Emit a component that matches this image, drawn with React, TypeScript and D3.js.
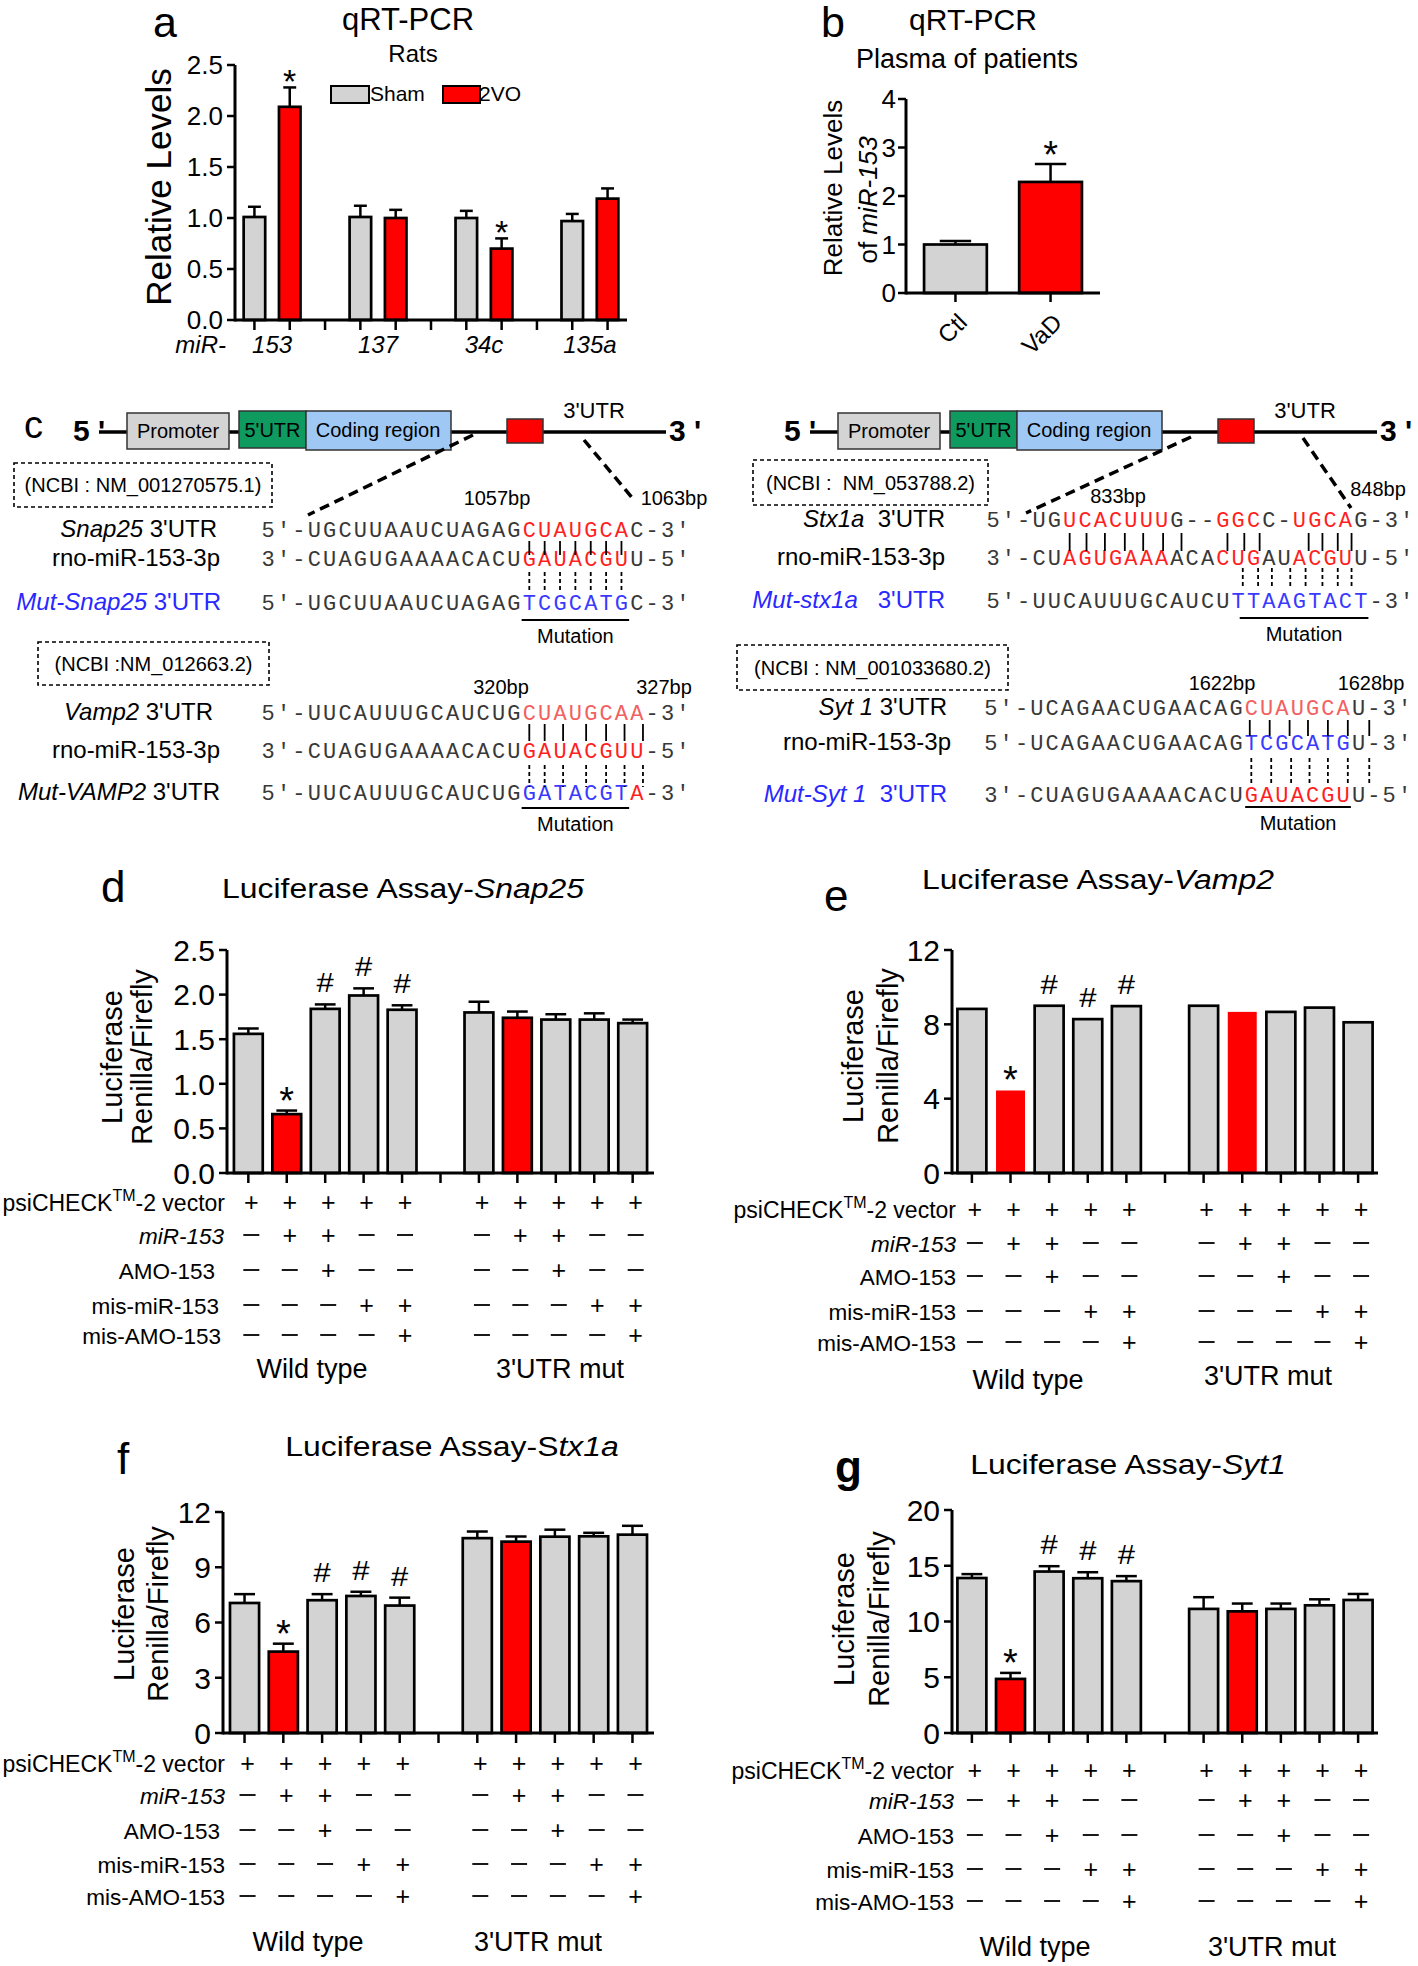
import * as d3 from "d3";

const SANS = "'Liberation Sans', Arial, sans-serif";
const MONO = "'Liberation Mono', 'Courier New', monospace";
const GRAY = "#d3d3d3";
const RED = "#ff0000";
const BLUE = "#2828ff";

// ---- panel a: rats qRT-PCR
const ratMirs = ["153", "137", "34c", "135a"];
const shamLevels = [1.01, 1.01, 1.0, 0.97];
const shamSem = [0.1, 0.11, 0.07, 0.07];
const vo2Levels = [2.09, 1.0, 0.7, 1.19];
const vo2Sem = [0.19, 0.08, 0.1, 0.1];
const vo2Sig = [true, false, true, false];

// ---- panel b: patients plasma
const patientGroups = ["Ctl", "VaD"];
const patientLevels = [1.0, 2.29];
const patientSem = [0.07, 0.37];
const patientSig = [false, true];

// ---- panel c: sequences (k grey, r red, p light red, b blue)
const snap25Rows = ["5'-UGCUUAAUCUAGAGCUAUGCAC-3'", "3'-CUAGUGAAAACACUGAUACGUU-5'", "5'-UGCUUAAUCUAGAGTCGCATGC-3'"];
const snap25Masks = ["kkkkkkkkkkkkkkkkkrrrrrrrkkkk", "kkkkkkkkkkkkkkkkkrrrrrrrkkkk", "kkkkkkkkkkkkkkkkkbbbbbbbkkkk"];
const vamp2Rows = ["5'-UUCAUUUGCAUCUGCUAUGCAA-3'", "3'-CUAGUGAAAACACUGAUACGUU-5'", "5'-UUCAUUUGCAUCUGGATACGTA-3'"];
const vamp2Masks = ["kkkkkkkkkkkkkkkkkppppppppkkk", "kkkkkkkkkkkkkkkkkrrrrrrrrkkk", "kkkkkkkkkkkkkkkkkbbbbbbbrkkk"];
const stx1aRows = ["5'-UGUCACUUUG--GGCC-UGCAG-3'", "3'-CUAGUGAAAACACUGAUACGUU-5'", "5'-UUCAUUUGCAUCUTTAAGTACT-3'"];
const stx1aMasks = ["kkkkkrrrrrrrkkkrrrkkrrrrkkkk", "kkkkkrrrrrrrkkkrrrkkrrrrkkkk", "kkkkkkkkkkkkkkkkbbbbbbbbbkkk"];
const syt1Rows = ["5'-UCAGAACUGAACAGCUAUGCAU-3'", "5'-UCAGAACUGAACAGTCGCATGU-3'", "3'-CUAGUGAAAACACUGAUACGUU-5'"];
const syt1Masks = ["kkkkkkkkkkkkkkkkkpppppppkkkk", "kkkkkkkkkkkkkkkkkbbbbbbbkkkk", "kkkkkkkkkkkkkkkkkrrrrrrrkkkk"];

// ---- panels d-g: luciferase
const lucConditions = ["psiCHECK", "miR-153", "AMO-153", "mis-miR-153", "mis-AMO-153"];
const lucDesign = ["++++++++++", "-++---++--", "--+----+--", "---++---++", "----+----+"];
const lucGroups = ["Wild type", "3'UTR mut"];
const lucMarks = ["", "*", "#", "#", "#", "", "", "", "", ""];
const snap25Luc = [1.56, 0.66, 1.84, 1.99, 1.83, 1.8, 1.74, 1.72, 1.72, 1.68];
const snap25LucSem = [0.06, 0.04, 0.05, 0.08, 0.05, 0.12, 0.07, 0.06, 0.07, 0.04];
const vamp2Luc = [8.83, 4.44, 9.0, 8.28, 8.98, 9.0, 8.67, 8.67, 8.9, 8.11];
const stx1aLuc = [7.06, 4.42, 7.21, 7.44, 6.92, 10.58, 10.39, 10.66, 10.68, 10.77];
const stx1aLucSem = [0.48, 0.43, 0.33, 0.23, 0.43, 0.36, 0.28, 0.38, 0.19, 0.48];
const syt1Luc = [13.9, 4.85, 14.48, 13.88, 13.62, 11.13, 10.91, 11.13, 11.45, 11.93];
const syt1LucSem = [0.35, 0.54, 0.48, 0.54, 0.45, 1.05, 0.7, 0.48, 0.54, 0.54];

type Part = [string, boolean];

// text with an optional horizontal stretch around its anchor
const T = ({ x, y, anchor = "start", size, italic = false, bold = false, sx = 1, fill = "#000", children }: any) => (
  <text transform={`translate(${x},${y}) scale(${sx},1)`} textAnchor={anchor} fontSize={size}
    fontStyle={italic ? "italic" : "normal"} fontWeight={bold ? "bold" : "normal"} fontFamily={SANS} fill={fill}
    style={{ whiteSpace: "pre" }}>
    {children}
  </text>
);

const Parts = ({ parts, x, y, anchor = "start", size, fill = "#000", sx = 1 }: any) => (
  <T x={x} y={y} anchor={anchor} size={size} fill={fill} sx={sx}>
    {parts.map(([t, it]: Part, i: number) => (
      <tspan key={i} fontStyle={it ? "italic" : "normal"}>{t}</tspan>
    ))}
  </T>
);

const VText = ({ x, y, size, children }: any) => (
  <text transform={`translate(${x},${y}) rotate(-90)`} textAnchor="middle" fontSize={size} fontFamily={SANS}>{children}</text>
);

const YAxis = ({ x, y, ticks, fmt, size, gap = 12 }: any) => {
  const [b, t] = y.range();
  return (
    <g>
      <line x1={x} x2={x} y1={b + 1.5} y2={t} stroke="#000" strokeWidth={3} />
      {ticks.map((v: number) => (
        <g key={v}>
          <line x1={x - 8} x2={x} y1={y(v)} y2={y(v)} stroke="#000" strokeWidth={2.5} />
          <text x={x - gap} y={y(v)} dy="0.36em" textAnchor="end" fontSize={size} fontFamily={SANS}>{fmt(v)}</text>
        </g>
      ))}
    </g>
  );
};

const XTicks = ({ x, n, y0 }: any) => (
  <g>
    {d3.range(n).map((s: number) => (
      <line key={s} x1={x(s) + x.bandwidth() / 2} x2={x(s) + x.bandwidth() / 2} y1={y0} y2={y0 + 10} stroke="#000" strokeWidth={2.5} />
    ))}
  </g>
);

const Bar = ({ x, w, y, v, e, fill, stroke = true, cap = 0.3 }: any) => {
  const top = y(v);
  const base = y(0);
  return (
    <g>
      {e != null && e > 0 && (
        <g stroke="#000" strokeWidth={2.5}>
          <line x1={x + w / 2} x2={x + w / 2} y1={top} y2={y(v + e)} />
          <line x1={x + w / 2 - w * cap} x2={x + w / 2 + w * cap} y1={y(v + e)} y2={y(v + e)} />
        </g>
      )}
      <rect x={x} y={top} width={w} height={base - top} fill={fill} stroke={stroke ? "#000" : "none"} strokeWidth={2.7} />
    </g>
  );
};

const Star = ({ x, y, size = 38 }: any) => (
  <text x={x} y={y} textAnchor="middle" fontSize={size} fontFamily={SANS}>*</text>
);

const PanelA = () => {
  const x0 = 235, x1 = 627, yb = 320;
  const y = d3.scaleLinear().domain([0, 2.5]).range([yb, 65]);
  const x = d3.scaleBand<number>().domain(d3.range(11)).range([x0, x1]).paddingInner(0.39).paddingOuter(0.245);
  const bw = x.bandwidth();
  const bars = ratMirs.flatMap((m, i) => [
    { key: m + "s", slot: i * 3, v: shamLevels[i], e: shamSem[i], fill: GRAY, sig: false },
    { key: m + "v", slot: i * 3 + 1, v: vo2Levels[i], e: vo2Sem[i], fill: RED, sig: vo2Sig[i] },
  ]);
  return (
    <g>
      <T x={153} y={37} size={43}>a</T>
      <T x={408} y={30} anchor="middle" size={31}>qRT-PCR</T>
      <T x={413} y={62} anchor="middle" size={24}>Rats</T>
      <VText x={171} y={187} size={35}>Relative Levels</VText>
      {bars.map(b => (
        <Bar key={b.key} x={x(b.slot)} w={bw} y={y} v={b.v} e={b.e} fill={b.fill} />
      ))}
      {bars.filter(b => b.sig).map(b => (
        <Star key={b.key + "*"} x={x(b.slot)! + bw / 2} y={y(b.v + b.e) + 6} size={34} />
      ))}
      <YAxis x={x0} y={y} ticks={d3.range(0, 2.51, 0.5)} fmt={d3.format(".1f")} size={26} />
      <line x1={x0} x2={x1} y1={yb} y2={yb} stroke="#000" strokeWidth={3} />
      <XTicks x={x} n={11} y0={yb} />
      <T x={226} y={353} anchor="end" size={24} italic>miR-</T>
      {ratMirs.map((m, i) => (
        <T key={m} x={(x(i * 3)! + x(i * 3 + 1)! + bw) / 2} y={353} anchor="middle" size={24} italic>{m}</T>
      ))}
      <rect x={331} y={86} width={38} height={17} fill={GRAY} stroke="#000" strokeWidth={2} />
      <T x={370} y={101} size={21}>Sham</T>
      <rect x={443} y={86} width={37} height={17} fill={RED} stroke="#000" strokeWidth={2} />
      <T x={479} y={101} size={21}>2VO</T>
    </g>
  );
};

const PanelB = () => {
  const x0 = 906, x1 = 1100, yb = 293;
  const y = d3.scaleLinear().domain([0, 4]).range([yb, 99]);
  const x = d3.scaleBand<string>().domain(patientGroups).range([x0, x1]).paddingInner(0.34).paddingOuter(0.19);
  const bw = x.bandwidth();
  return (
    <g>
      <T x={821} y={37} size={43}>b</T>
      <T x={973} y={30} anchor="middle" size={30}>qRT-PCR</T>
      <T x={967} y={68} anchor="middle" size={27}>Plasma of patients</T>
      <VText x={842} y={188} size={26}>Relative Levels</VText>
      <VText x={877} y={200} size={26}>of <tspan fontStyle="italic">miR-153</tspan></VText>
      {patientGroups.map((g, i) => (
        <g key={g}>
          <Bar x={x(g)} w={bw} y={y} v={patientLevels[i]} e={patientSem[i]} fill={i === 0 ? GRAY : RED} cap={0.25} />
          {patientSig[i] && <Star x={x(g)! + bw / 2} y={y(patientLevels[i] + patientSem[i]) + 4} />}
          <line x1={x(g)! + bw / 2} x2={x(g)! + bw / 2} y1={yb} y2={yb + 9} stroke="#000" strokeWidth={2.5} />
          <text transform={`translate(${x(g)! + bw / 2 + 13},${yb + 31}) rotate(-45)`} textAnchor="end" fontSize={24} fontFamily={SANS}>{g}</text>
        </g>
      ))}
      <YAxis x={x0} y={y} ticks={[0, 1, 2, 3, 4]} fmt={d3.format("d")} size={26} gap={10} />
      <line x1={x0} x2={x1} y1={yb} y2={yb} stroke="#000" strokeWidth={3} />
    </g>
  );
};

const SEQ_COLORS: Record<string, string> = { k: "#383838", r: "#ff1f1f", p: "#f26060", b: "#3a3aff" };

const Seq = ({ s, mask, x, y, cw }: any) => (
  <g fontFamily={MONO} fontSize={22}>
    {s.split("").map((ch: string, i: number) => (
      <text key={i} x={x + (i + 0.5) * cw} y={y} textAnchor="middle" fill={SEQ_COLORS[mask[i]]}>{ch}</text>
    ))}
  </g>
);

const SeqBlock = ({ labels, labelColors, labelRight, rows, masks, seqX, cw, rowYs, solidPos, solidY, dashPos, dashY, mut, mutY, bp, ncbi }: any) => (
  <g>
    <rect x={ncbi.x} y={ncbi.y} width={ncbi.w} height={ncbi.h} fill="none" stroke="#000" strokeWidth={1.6} strokeDasharray="4,3" />
    <T x={ncbi.x + ncbi.w / 2} y={ncbi.y + ncbi.h / 2 + 7} anchor="middle" size={20}>{ncbi.text}</T>
    {bp.map((b: any) => (
      <T key={b.text} x={b.x} y={b.y} anchor="middle" size={20}>{b.text}</T>
    ))}
    {labels.map((p: Part[], i: number) => (
      <Parts key={i} parts={p} x={labelRight[i]} y={rowYs[i]} anchor="end" size={24} fill={labelColors[i]} />
    ))}
    {rows.map((r: string, i: number) => (
      <Seq key={i} s={r} mask={masks[i]} x={seqX} y={rowYs[i]} cw={cw} />
    ))}
    {solidPos.map((k: number) => (
      <line key={"s" + k} x1={seqX + (k + 0.5) * cw} x2={seqX + (k + 0.5) * cw} y1={solidY[0]} y2={solidY[1]} stroke="#000" strokeWidth={1.8} />
    ))}
    {dashPos.map((k: number) => (
      <line key={"d" + k} x1={seqX + (k + 0.5) * cw} x2={seqX + (k + 0.5) * cw} y1={dashY[0]} y2={dashY[1]} stroke="#000" strokeWidth={1.8} strokeDasharray="4,3" />
    ))}
    <line x1={seqX + mut[0] * cw} x2={seqX + mut[1] * cw} y1={mutY} y2={mutY} stroke="#000" strokeWidth={2} />
    <T x={seqX + ((mut[0] + mut[1]) / 2) * cw} y={mutY + 23} anchor="middle" size={20}>Mutation</T>
  </g>
);

const Gene = ({ dx, d1, d2 }: any) => (
  <g>
    <g transform={`translate(${dx},0)`}>
      <line x1={99} x2={666} y1={432} y2={432} stroke="#000" strokeWidth={3.5} />
      <T x={73} y={441} size={30} bold>5 '</T>
      <T x={669} y={441} size={30} bold>3 '</T>
      <rect x={127} y={413} width={102} height={36} fill="#d4d4d4" stroke="#333" strokeWidth={1.5} />
      <T x={178} y={438} anchor="middle" size={20}>Promoter</T>
      <rect x={239} y={411} width={67} height={37} fill="#0f9a60" stroke="#333" strokeWidth={1.5} />
      <T x={272.5} y={437} anchor="middle" size={20}>5'UTR</T>
      <rect x={306} y={411} width={145} height={39} fill="#9fc8f5" stroke="#333" strokeWidth={1.5} />
      <T x={378} y={437} anchor="middle" size={20}>Coding region</T>
      <rect x={507} y={419} width={36} height={24} fill={RED} stroke="#333" strokeWidth={1.5} />
      <T x={594} y={418} anchor="middle" size={22}>3'UTR</T>
    </g>
    <line x1={d1[0]} y1={d1[1]} x2={d1[2]} y2={d1[3]} stroke="#000" strokeWidth={3.5} strokeDasharray="10,6" />
    <line x1={d2[0]} y1={d2[1]} x2={d2[2]} y2={d2[3]} stroke="#000" strokeWidth={3.5} strokeDasharray="10,6" />
  </g>
);

const PanelC = () => (
  <g>
    <T x={24} y={438} size={38}>c</T>
    <Gene dx={0} d1={[473, 435, 308, 515]} d2={[584, 440, 634, 500]} />
    <Gene dx={711} d1={[1191, 437, 1026, 513]} d2={[1303, 438, 1351, 508]} />
    <SeqBlock
      labels={[[["Snap25", true], [" 3'UTR", false]], [["rno-miR-153-3p", false]], [["Mut-Snap25", true], [" 3'UTR", false]]]}
      labelColors={["#000", "#000", BLUE]}
      labelRight={[217, 220, 221]}
      rows={snap25Rows} masks={snap25Masks} seqX={260.5} cw={15.36} rowYs={[537, 566, 610]}
      solidPos={d3.range(17, 24)} solidY={[541, 555]} dashPos={d3.range(17, 24)} dashY={[572, 591]}
      mut={[17, 24]} mutY={620}
      bp={[{ text: "1057bp", x: 497, y: 505 }, { text: "1063bp", x: 674, y: 505 }]}
      ncbi={{ x: 14, y: 463, w: 258, h: 44, text: "(NCBI : NM_001270575.1)" }}
    />
    <SeqBlock
      labels={[[["Vamp2", true], [" 3'UTR", false]], [["rno-miR-153-3p", false]], [["Mut-VAMP2", true], [" 3'UTR", false]]]}
      labelColors={["#000", "#000", "#000"]}
      labelRight={[213, 220, 220]}
      rows={vamp2Rows} masks={vamp2Masks} seqX={260.5} cw={15.36} rowYs={[720, 758, 800]}
      solidPos={[17, 18, 19.2, 20.7, 22, 23.2, 24.4]} solidY={[724, 741]} dashPos={[17, 18, 19.2, 20.7, 22, 23.2, 24.4]} dashY={[765, 787]}
      mut={[17, 24]} mutY={808}
      bp={[{ text: "320bp", x: 501, y: 694 }, { text: "327bp", x: 664, y: 694 }]}
      ncbi={{ x: 38, y: 642, w: 231, h: 43, text: "(NCBI :NM_012663.2)" }}
    />
    <SeqBlock
      labels={[[["Stx1a", true], ["  3'UTR", false]], [["rno-miR-153-3p", false]], [["Mut-stx1a", true], ["   3'UTR", false]]]}
      labelColors={["#000", "#000", BLUE]}
      labelRight={[945, 945, 945]}
      rows={stx1aRows} masks={stx1aMasks} seqX={985.4} cw={15.32} rowYs={[527, 565, 608]}
      solidPos={[5, 6.1, 7.3, 8.6, 9.8, 11.1, 12.3, 15.3, 16.4, 17.4, 20.6, 21.5, 22.5, 23.4]} solidY={[533, 551]}
      dashPos={[16.3, 17.3, 18.2, 19.4, 20.4, 21.5, 22.5, 23.4]} dashY={[568, 588]}
      mut={[16.6, 25]} mutY={618}
      bp={[{ text: "833bp", x: 1118, y: 503 }, { text: "848bp", x: 1378, y: 496 }]}
      ncbi={{ x: 753, y: 460, w: 235, h: 45, text: "(NCBI :  NM_053788.2)" }}
    />
    <SeqBlock
      labels={[[["Syt 1", true], [" 3'UTR", false]], [["rno-miR-153-3p", false]], [["Mut-Syt 1", true], ["  3'UTR", false]]]}
      labelColors={["#000", "#000", BLUE]}
      labelRight={[947, 951, 947]}
      rows={syt1Rows} masks={syt1Masks} seqX={983.2} cw={15.32} rowYs={[715, 750, 802]}
      solidPos={[16.9, 18.2, 19.5, 20.7, 22, 23.3, 24.7]} solidY={[720, 736]}
      dashPos={[17, 18.3, 19.6, 20.8, 22, 23.3, 24.7]} dashY={[758, 783]}
      mut={[17.1, 24]} mutY={807}
      bp={[{ text: "1622bp", x: 1222, y: 690 }, { text: "1628bp", x: 1371, y: 690 }]}
      ncbi={{ x: 737, y: 645, w: 271, h: 45, text: "(NCBI : NM_001033680.2)" }}
    />
  </g>
);

const LucPanel = ({ letter, letterPos, bold, title, titlePos, x0, x1, pOuter, yTop, yBot, yMax, ticks, fmt, values, sem, redStroke = true, yLab, rowRight, rowYs, groupY, groupX }: any) => {
  const y = d3.scaleLinear().domain([0, yMax]).range([yBot, yTop]);
  const x = d3.scaleBand<number>().domain(d3.range(11)).range([x0, x1]).paddingInner(0.25).paddingOuter(pOuter);
  const bw = x.bandwidth();
  const slot = (i: number) => (i < 5 ? i : i + 1);
  return (
    <g>
      <T x={letterPos[0]} y={letterPos[1]} size={44} bold={bold}>{letter}</T>
      <Parts parts={title} x={titlePos[0]} y={titlePos[1]} anchor="middle" size={28} sx={1.14} />
      <VText x={yLab[0]} y={yLab[2]} size={29}>Luciferase</VText>
      <VText x={yLab[1]} y={yLab[2]} size={29}>Renilla/Firefly</VText>
      {values.map((v: number, i: number) => {
        const red = i === 1 || i === 6;
        const e = sem ? sem[i] : null;
        const bx = x(slot(i))!;
        const top = y(v + (e || 0));
        return (
          <g key={i}>
            <Bar x={bx} w={bw} y={y} v={v} e={e} fill={red ? RED : GRAY} stroke={!red || redStroke} cap={0.36} />
            {lucMarks[i] === "*" && <Star x={bx + bw / 2} y={top + 3} />}
            {lucMarks[i] === "#" && (
              <T x={bx + bw / 2} y={top - 12} anchor="middle" size={27} sx={1.15}>#</T>
            )}
          </g>
        );
      })}
      <YAxis x={x0} y={y} ticks={ticks} fmt={fmt} size={30} />
      <line x1={x0} x2={x1} y1={yBot} y2={yBot} stroke="#000" strokeWidth={3} />
      <XTicks x={x} n={11} y0={yBot} />
      {lucConditions.map((c, r) => (
        <g key={c}>
          {r === 0 ? (
            <T x={rowRight[r]} y={rowYs[r]} anchor="end" size={23}>
              psiCHECK<tspan fontSize={16} dy={-10}>TM</tspan><tspan dy={10}>-2 vector</tspan>
            </T>
          ) : (
            <T x={rowRight[r]} y={rowYs[r]} anchor="end" size={22.5} italic={c === "miR-153"}>{c}</T>
          )}
          {lucDesign[r].split("").map((s, i) => {
            const cx = x(slot(i))! + bw / 2 + 3;
            return s === "+" ? (
              <text key={i} x={cx} y={rowYs[r]} textAnchor="middle" fontSize={25} fontFamily={SANS}>+</text>
            ) : (
              <line key={i} x1={cx - 8} x2={cx + 8} y1={rowYs[r] - 9} y2={rowYs[r] - 9} stroke="#000" strokeWidth={1.8} />
            );
          })}
        </g>
      ))}
      {lucGroups.map((g, i) => (
        <T key={g} x={groupX[i]} y={groupY[i]} anchor="middle" size={27}>{g}</T>
      ))}
    </g>
  );
};

export default function App() {
  const f1 = d3.format(".1f");
  const f0 = d3.format("d");
  return (
    <svg width={1418} height={1966} style={{ position: "absolute", left: 0, top: 0, background: "#fff" }}>
      <rect width={1418} height={1966} fill="#fff" />
      <PanelA />
      <PanelB />
      <PanelC />
      <LucPanel letter="d" letterPos={[101, 902]} title={[["Luciferase Assay-", false], ["Snap25", true]]} titlePos={[403, 898]}
        x0={227} x1={654} pOuter={0.18} yTop={950} yBot={1173} yMax={2.5} ticks={d3.range(0, 2.51, 0.5)} fmt={f1}
        values={snap25Luc} sem={snap25LucSem} yLab={[122, 152, 1057]}
        rowRight={[225, 224, 215, 219, 221]} rowYs={[1211, 1244, 1279, 1314, 1344]} groupY={[1378, 1378]} groupX={[312, 560]} />
      <LucPanel letter="e" letterPos={[824, 911]} title={[["Luciferase Assay-", false], ["Vamp2", true]]} titlePos={[1098, 889]}
        x0={952} x1={1378} pOuter={0.14} yTop={950} yBot={1173} yMax={12} ticks={[0, 4, 8, 12]} fmt={f0}
        values={vamp2Luc} sem={null} redStroke={false} yLab={[863, 898, 1056]}
        rowRight={[956, 956, 956, 956, 956]} rowYs={[1218, 1252, 1285, 1320, 1351]} groupY={[1389, 1385]} groupX={[1028, 1268]} />
      <LucPanel letter="f" letterPos={[117, 1474]} title={[["Luciferase Assay-S", false], ["tx1a", true]]} titlePos={[452, 1456]}
        x0={223} x1={654} pOuter={0.18} yTop={1512} yBot={1733} yMax={12} ticks={[0, 3, 6, 9, 12]} fmt={f0}
        values={stx1aLuc} sem={stx1aLucSem} yLab={[134, 168, 1614]}
        rowRight={[225, 225, 220, 225, 225]} rowYs={[1772, 1804, 1839, 1873, 1905]} groupY={[1951, 1951]} groupX={[308, 538]} />
      <LucPanel letter="g" bold letterPos={[835, 1482]} title={[["Luciferase Assay-", false], ["Syt1", true]]} titlePos={[1128, 1474]}
        x0={952} x1={1378} pOuter={0.14} yTop={1510} yBot={1733} yMax={20} ticks={[0, 5, 10, 15, 20]} fmt={f0}
        values={syt1Luc} sem={syt1LucSem} yLab={[854, 889, 1619]}
        rowRight={[954, 954, 954, 954, 954]} rowYs={[1779, 1809, 1844, 1878, 1910]} groupY={[1956, 1956]} groupX={[1035, 1272]} />
    </svg>
  );
}
